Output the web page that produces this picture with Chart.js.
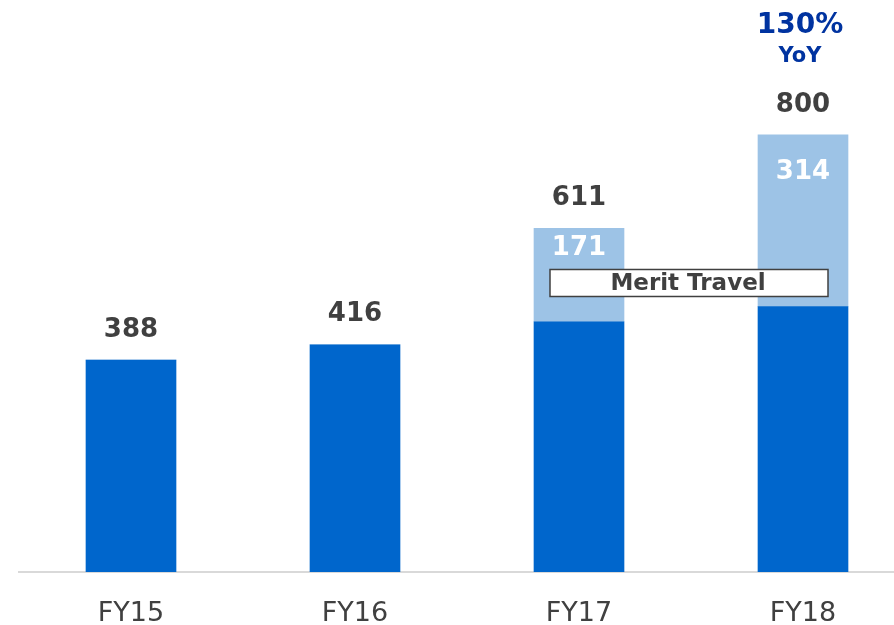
<!DOCTYPE html>
<html>
<head>
<meta charset="utf-8">
<script src="https://cdn.jsdelivr.net/npm/chart.js@4.4.1/dist/chart.umd.min.js"></script>
<style>
html,body{margin:0;padding:0;background:#fff;overflow:hidden;width:894px;height:625px;}
#wrap{position:relative;width:915px;height:625px;}
</style>
</head>
<body>
<div id="wrap"><canvas id="c" width="915" height="625"></canvas></div>
<script>
const categories = ['FY15', 'FY16', 'FY17', 'FY18'];
const organicValues = [388, 416, 458, 486];
const meritValues = [0, 0, 171, 314];
const totalLabels = ['388', '416', '611', '800'];
const yoyLabel = '130%';
const yoySub = 'YoY';
const calloutText = 'Merit Travel';

const labelPlugin = {
  id: 'labels',
  afterDatasetsDraw(chart) {
    const ctx = chart.ctx;
    const xs = chart.scales.x, ys = chart.scales.y;
    ctx.save();
    ctx.textAlign = 'center';
    ctx.textBaseline = 'middle';
    const segOffsets = [0, 0, 20, 37];
    categories.forEach((c, i) => {
      const x = xs.getPixelForValue(i);
      const total = organicValues[i] + meritValues[i];
      const top = ys.getPixelForValue(total);
      ctx.fillStyle = '#404040';
      ctx.font = 'bold 26px "DejaVu Sans", Verdana, sans-serif';
      ctx.fillText(totalLabels[i], x, top - 30);
      if (meritValues[i] > 0) {
        ctx.fillStyle = '#ffffff';
        ctx.fillText(String(meritValues[i]), x, top + segOffsets[i]);
      }
    });
    // YoY
    const x3 = xs.getPixelForValue(3);
    ctx.fillStyle = '#0033A0';
    ctx.font = 'bold 28px "DejaVu Sans", Verdana, sans-serif';
    ctx.fillText(yoyLabel, x3 - 3, 26);
    ctx.font = 'bold 21px "DejaVu Sans", Verdana, sans-serif';
    ctx.fillText(yoySub, x3 - 3, 57);
    // Callout box
    const bx0 = xs.getPixelForValue(2) - 29;
    const bx1 = xs.getPixelForValue(3) + 25;
    const by = ys.getPixelForValue(529);
    const bh = 27;
    ctx.fillStyle = '#ffffff';
    ctx.fillRect(bx0, by - bh / 2, bx1 - bx0, bh);
    ctx.strokeStyle = '#404040';
    ctx.lineWidth = 1.5;
    ctx.strokeRect(bx0, by - bh / 2, bx1 - bx0, bh);
    ctx.fillStyle = '#404040';
    ctx.font = 'bold 23px "DejaVu Sans", Verdana, sans-serif';
    ctx.fillText(calloutText, (bx0 + bx1) / 2 - 1, by + 1);
    ctx.restore();
  }
};

new Chart(document.getElementById('c'), {
  type: 'bar',
  data: {
    labels: categories,
    datasets: [
      { label: 'Organic', data: organicValues, backgroundColor: '#0066CC', barThickness: 90 },
      { label: 'Merit Travel', data: meritValues, backgroundColor: '#9DC3E6', barThickness: 90 }
    ]
  },
  options: {
    responsive: false,
    animation: false,
    layout: { padding: { left: 19, right: 0, top: 0, bottom: 0 } },
    plugins: { legend: { display: false }, tooltip: { enabled: false } },
    scales: {
      x: {
        stacked: true,
        grid: { display: false, drawTicks: false },
        border: { display: true, color: '#D9D9D9', width: 2 },
        ticks: { color: '#404040', padding: 26, font: { family: '"DejaVu Sans", Verdana, sans-serif', size: 27 } },
        afterFit(scale) { scale.height = 53; }
      },
      y: {
        stacked: true,
        display: false,
        min: 0,
        max: 1047
      }
    }
  },
  plugins: [labelPlugin]
});
</script>
</body>
</html>
